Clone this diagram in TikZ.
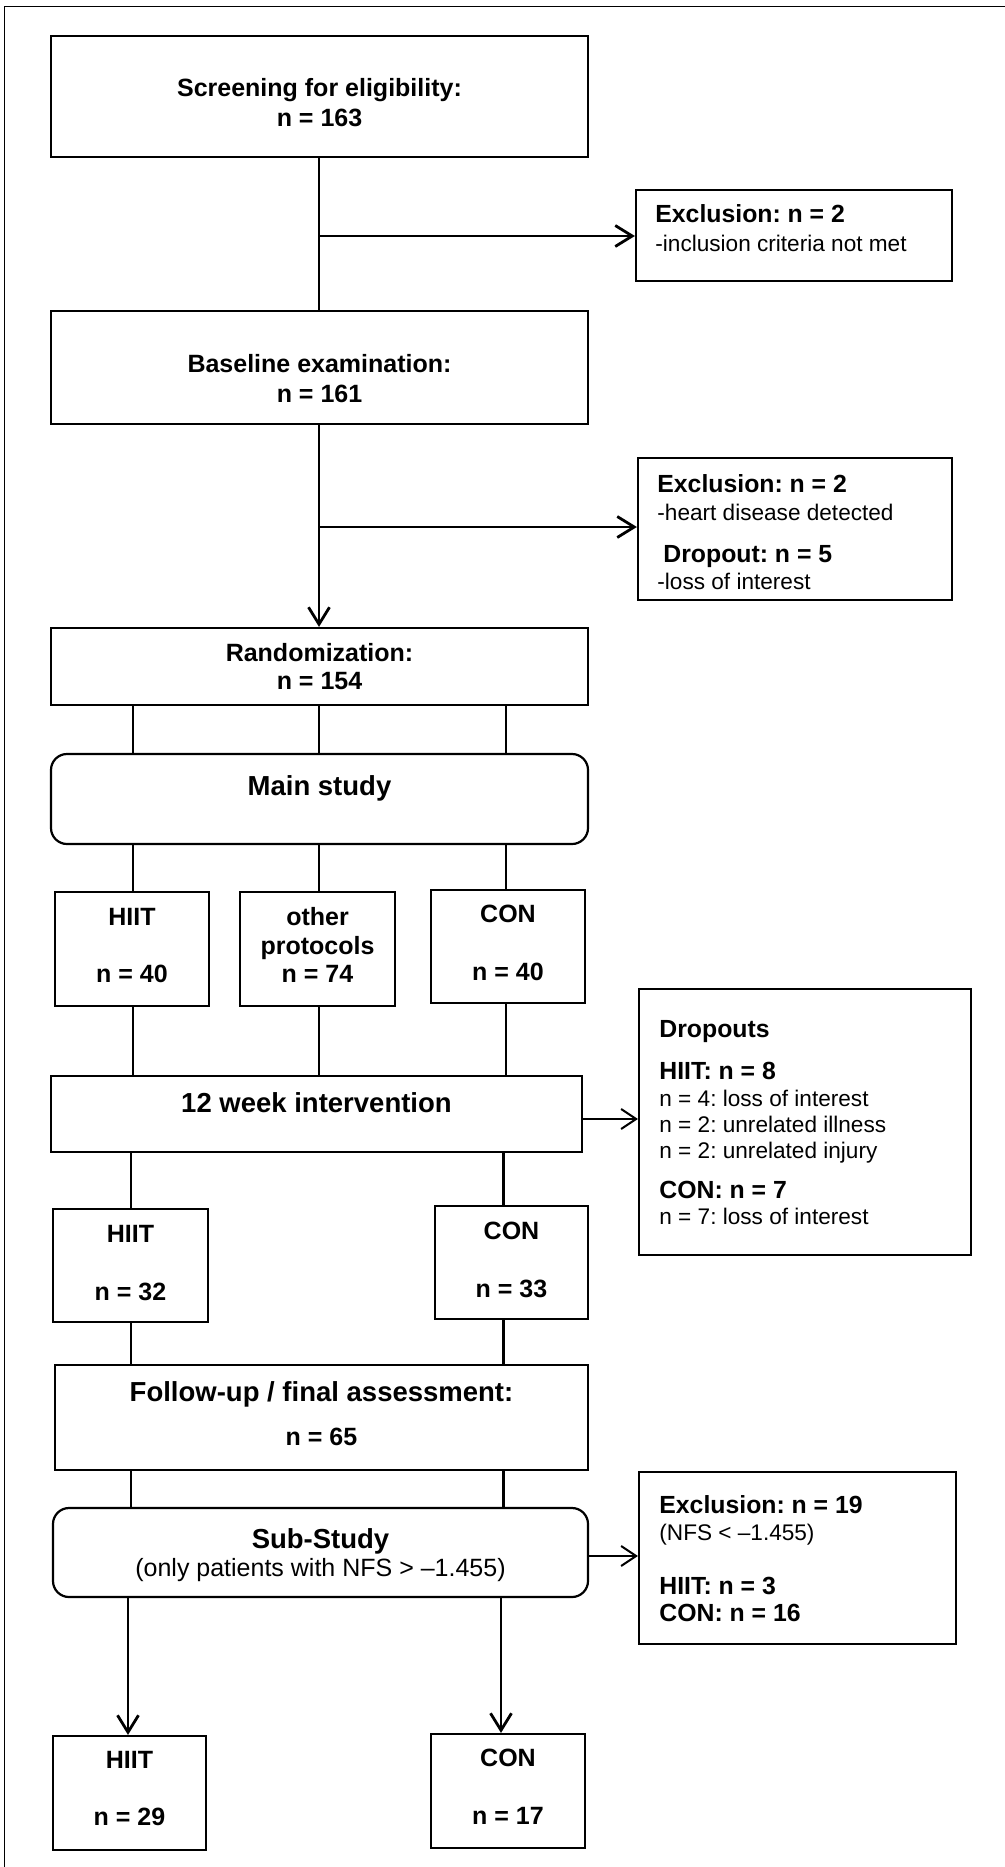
\documentclass[tikz,border=0pt]{standalone}
\usepackage{fontspec}
\setmainfont{Liberation Sans}
\usetikzlibrary{arrows.meta,fit}
\begin{document}
\frenchspacing
\begin{tikzpicture}[x=0.5pt,y=-0.5pt,
 box/.style={draw=black,line width=1.1pt,inner sep=0pt},
 rbox/.style={box,rounded corners=8pt},
 conn/.style={line width=1.4pt},
 arr/.style={conn,-{Straight Barb[length=8.5pt,width=10.5pt]}},
 thinarr/.style={line width=1pt,-{Straight Barb[length=7.5pt,width=10pt]}},
 tb/.style={inner sep=0pt,anchor=base,font=\fontsize{12.5}{15}\selectfont\bfseries},
 tr/.style={inner sep=0pt,anchor=base,font=\fontsize{12.5}{15}\selectfont},
 tbig/.style={inner sep=0pt,anchor=base,font=\fontsize{13.75}{16}\selectfont\bfseries},
 sb/.style={inner sep=0pt,anchor=base west,font=\fontsize{12.4}{15}\selectfont\bfseries},
 sr/.style={inner sep=0pt,anchor=base west,font=\fontsize{11.3}{14}\selectfont},
]
\useasboundingbox (0,0) rectangle (1005,1867);
% frame (left and top only)
\draw[line width=0.9pt] (4.5,1867) -- (4.5,6.5) -- (1005,6.5);

% boxes
\node[box,fit={(51,36) (588,157)}] (scr) {};
\node[box,fit={(636,190) (952,281)}] (exc1) {};
\node[box,fit={(51,311) (588,424)}] (base) {};
\node[box,fit={(638,458) (952,600)}] (exc2) {};
\node[box,fit={(51,628) (588,705)}] (rand) {};
\node[rbox,fit={(51,754) (588,844)}] (main) {};
\node[box,fit={(55,892) (209,1006)}] (hiit1) {};
\node[box,fit={(240,892) (395,1006)}] (other) {};
\node[box,fit={(431,890) (585,1003)}] (con1) {};
\node[box,fit={(51,1076) (582,1152)}] (week) {};
\node[box,fit={(639,989) (971,1255)}] (drop) {};
\node[box,fit={(53,1209) (208,1322)}] (hiit2) {};
\node[box,fit={(435,1206) (588,1319)}] (con2) {};
\node[box,fit={(55,1365) (588,1470)}] (fol) {};
\node[rbox,fit={(53,1508) (588,1597)}] (sub) {};
\node[box,fit={(639,1472) (956,1644)}] (exc3) {};
\node[box,fit={(53,1736) (206,1850)}] (hiit3) {};
\node[box,fit={(431,1734) (585,1848)}] (con3) {};

% texts
\node[tb] (scrA) at (319.5,97) {Screening for eligibility:};
\node[tb] (scrB) at (319.5,126.5) {n = 163};
\node[tb] (baseA) at (319.5,372) {Baseline examination:};
\node[tb] (baseB) at (319.5,402) {n = 161};
\node[tb] (randA) at (319.5,661) {Randomization:};
\node[tb] (randB) at (319.5,689) {n = 154};
\node[tbig] (mainA) at (319.5,795.5) {Main study};
\node[tb] (hiit1A) at (132,925) {HIIT};
\node[tb] (hiit1B) at (132,982) {n = 40};
\node[tb] (otherA) at (317.5,925.5) {other};
\node[tb] (otherB) at (317.5,954) {protocols};
\node[tb] (otherC) at (317.5,982.5) {n = 74};
\node[tb] (con1A) at (508,922.6) {CON};
\node[tb] (con1B) at (508,980) {n = 40};
\node[tbig] (weekA) at (316.5,1112) {12 week intervention};
\node[tb] (hiit2A) at (130.5,1242) {HIIT};
\node[tb] (hiit2B) at (130.5,1300) {n = 32};
\node[tb] (con2A) at (511.5,1239) {CON};
\node[tb] (con2B) at (511.5,1297) {n = 33};
\node[tbig] (folA) at (321.5,1401) {Follow-up / final assessment:};
\node[tb] (folB) at (321.5,1445) {n = 65};
\node[tbig] (subA) at (320.5,1548) {Sub-Study};
\node[tr] (subB) at (320.5,1576) {(only patients with NFS > –1.455)};
\node[tb] (hiit3A) at (129.5,1768) {HIIT};
\node[tb] (hiit3B) at (129.5,1825) {n = 29};
\node[tb] (con3A) at (508,1766.5) {CON};
\node[tb] (con3B) at (508,1824) {n = 17};

\node[sb] (exc1A) at (655,223) {Exclusion: n = 2};
\node[sr] (exc1B) at (655,251) {-inclusion criteria not met};
\node[sb] (exc2A) at (657,492) {Exclusion: n = 2};
\node[sr] (exc2B) at (657,520) {-heart disease detected};
\node[sb] (exc2C) at (663,562) {Dropout: n = 5};
\node[sr] (exc2D) at (657,589) {-loss of interest};
\node[sb] (dropA) at (659,1037) {Dropouts};
\node[sb] (dropB) at (659,1079) {HIIT: n = 8};
\node[sr] (dropC) at (659,1106) {n = 4: loss of interest};
\node[sr] (dropD) at (659,1132) {n = 2: unrelated illness};
\node[sr] (dropE) at (659,1158) {n = 2: unrelated injury};
\node[sb] (dropF) at (659,1198) {CON: n = 7};
\node[sr] (dropG) at (659,1224) {n = 7: loss of interest};
\node[sb] (exc3A) at (659,1513) {Exclusion: n = 19};
\node[sr] (exc3B) at (659,1540) {(NFS < –1.455)};
\node[sb] (exc3C) at (659,1594) {HIIT: n = 3};
\node[sb] (exc3D) at (659,1621) {CON: n = 16};

% column coordinates
\coordinate (xM) at (319,0);
\coordinate (xL1) at (133,0);
\coordinate (xR1) at (506,0);
\coordinate (xL2) at (131,0);
\coordinate (xR2) at (503.5,0);
\coordinate (xL3) at (128,0);
\coordinate (xR3) at (501,0);
\coordinate (yA) at (0,236);
\coordinate (yB) at (0,527);
\coordinate (yC) at (0,1119);
\coordinate (yD) at (0,1556);

% connectors
\draw[conn] (scr.south -| xM) -- (base.north -| xM);
\draw[arr] (xM |- yA) -- (exc1.west |- yA);
\draw[arr] (base.south -| xM) -- (rand.north -| xM);
\draw[arr] (xM |- yB) -- (exc2.west |- yB);

\draw[conn] (rand.south -| xL1) -- (main.north -| xL1);
\draw[conn] (rand.south -| xM) -- (main.north -| xM);
\draw[conn] (rand.south -| xR1) -- (main.north -| xR1);
\draw[conn] (main.south -| xL1) -- (hiit1.north -| xL1);
\draw[conn] (main.south -| xM) -- (other.north -| xM);
\draw[conn] (main.south -| xR1) -- (con1.north -| xR1);
\draw[conn] (hiit1.south -| xL1) -- (week.north -| xL1);
\draw[conn] (other.south -| xM) -- (week.north -| xM);
\draw[conn] (con1.south -| xR1) -- (week.north -| xR1);
\draw[thinarr] (week.east |- yC) -- (drop.west |- yC);

\draw[conn] (week.south -| xL2) -- (hiit2.north -| xL2);
\draw[conn] (week.south -| xR2) -- (con2.north -| xR2);
\draw[conn] (hiit2.south -| xL2) -- (fol.north -| xL2);
\draw[conn] (con2.south -| xR2) -- (fol.north -| xR2);
\draw[conn] (fol.south -| xL2) -- (sub.north -| xL2);
\draw[conn] (fol.south -| xR2) -- (sub.north -| xR2);
\draw[thinarr] (sub.east |- yD) -- (exc3.west |- yD);

\draw[arr] (sub.south -| xL3) -- (hiit3.north -| xL3);
\draw[arr] (sub.south -| xR3) -- (con3.north -| xR3);
\end{tikzpicture}
\end{document}
